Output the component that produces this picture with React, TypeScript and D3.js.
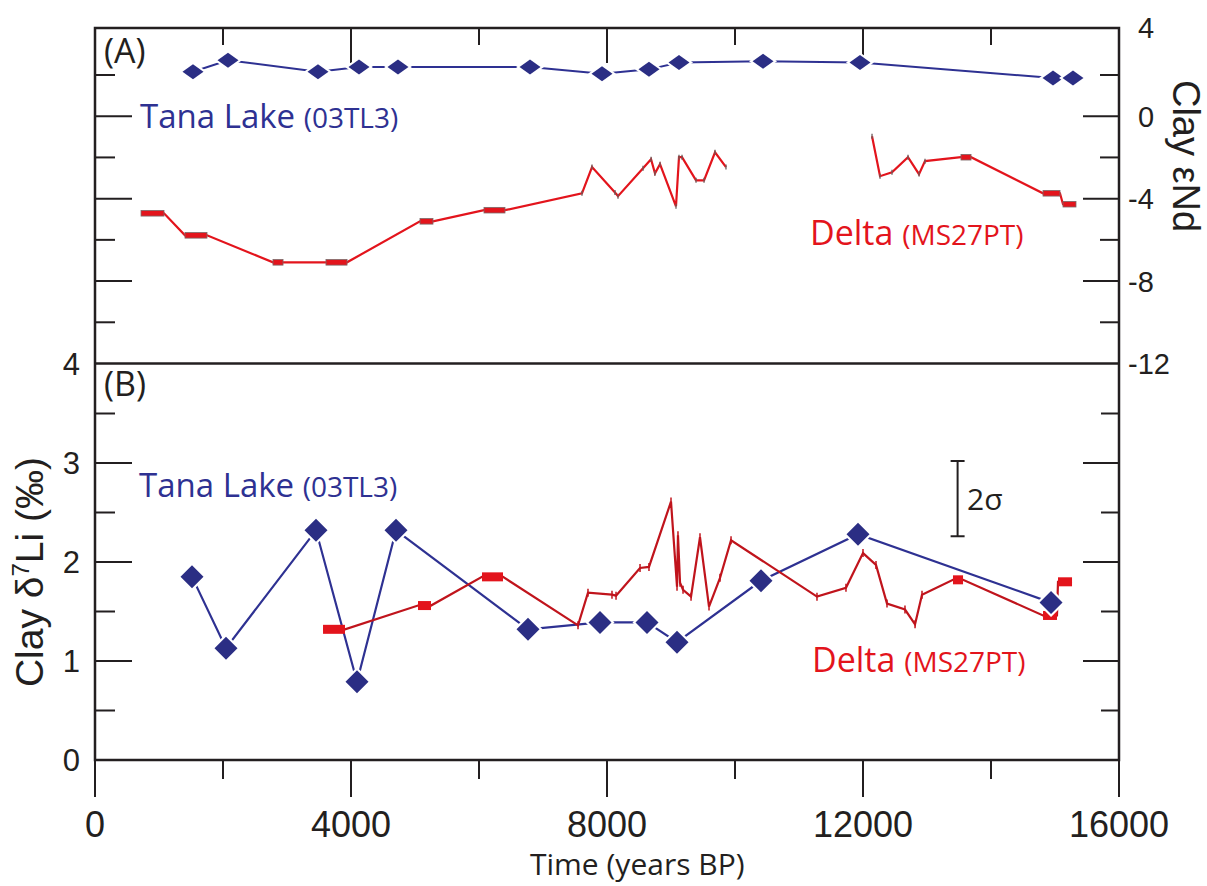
import React from "react";
import * as d3 from "d3";

// ---------- data ----------
const timeTicks = [0, 2000, 4000, 6000, 8000, 10000, 12000, 14000, 16000];
const timeTickLabels = [0, 4000, 8000, 12000, 16000];
const ndTicks = [-12, -10, -8, -6, -4, -2, 0, 2, 4];
const ndTickLabels = [4, 0, -4, -8, -12];
const liTicks = [0, 0.5, 1, 1.5, 2, 2.5, 3, 3.5, 4];
const liTickLabels = [0, 1, 2, 3, 4];

// Panel A: Tana Lake clay eNd
const tanaNdAge = [1531, 2078, 3484, 4125, 4734, 6797, 7922, 8656, 9125, 10438, 11953, 14969, 15281];
const tanaNd = [2.14, 2.63, 2.14, 2.34, 2.34, 2.34, 2.05, 2.24, 2.53, 2.58, 2.53, 1.85, 1.85];

// Panel A: Delta clay eNd (age range min/max; bars where min != max), two segments
const deltaNdAgeMin1 = [719, 1406, 2781, 3609, 5078, 6078, 7609, 7766, 8125, 8172, 8563, 8688, 8750, 8828, 9078, 9125, 9172, 9391, 9516, 9688, 9859];
const deltaNdAgeMax1 = [1078, 1750, 2938, 3938, 5281, 6406, 7609, 7766, 8125, 8172, 8563, 8688, 8750, 8828, 9078, 9125, 9172, 9391, 9516, 9688, 9859];
const deltaNd1 = [-4.71, -5.78, -7.09, -7.09, -5.1, -4.56, -3.74, -2.47, -3.7, -3.88, -2.52, -2.09, -2.77, -2.33, -4.37, -1.99, -1.99, -3.11, -3.11, -1.75, -2.47];
const deltaNdAgeMin2 = [12141, 12266, 12453, 12703, 12875, 12969, 13531, 14813, 15125];
const deltaNdAgeMax2 = [12141, 12266, 12453, 12703, 12875, 12969, 13688, 15078, 15328];
const deltaNd2 = [-0.97, -2.91, -2.72, -1.99, -2.81, -2.18, -1.99, -3.74, -4.27];

// Panel B: Tana Lake clay d7Li
const tanaLiAge = [1516, 2047, 3453, 4094, 4703, 6766, 7891, 8625, 9094, 10406, 11922, 14938];
const tanaLi = [1.85, 1.13, 2.32, 0.79, 2.32, 1.32, 1.39, 1.39, 1.19, 1.81, 2.28, 1.59];

// Panel B: Delta clay d7Li
const deltaLiAgeMin = [3563, 5047, 6047, 7547, 7703, 8078, 8141, 8516, 8656, 9000, 9094, 9109, 9141, 9188, 9313, 9453, 9594, 9766, 9938, 11281, 11734, 12000, 12203, 12375, 12656, 12813, 12922, 13406, 14813, 15047];
const deltaLiAgeMax = [3906, 5250, 6375, 7547, 7703, 8078, 8141, 8516, 8656, 9000, 9094, 9109, 9141, 9188, 9313, 9453, 9594, 9766, 9938, 11281, 11734, 12000, 12203, 12375, 12656, 12813, 12922, 13563, 15031, 15266];
const deltaLi = [1.32, 1.56, 1.85, 1.36, 1.69, 1.67, 1.66, 1.94, 1.95, 2.61, 1.75, 2.27, 1.79, 1.72, 1.65, 2.25, 1.55, 1.84, 2.22, 1.65, 1.74, 2.09, 1.97, 1.58, 1.52, 1.37, 1.67, 1.82, 1.46, 1.8];

// 2 sigma reference bar (d7Li)
const twoSigmaAge = 13400;
const twoSigmaLow = 2.26;
const twoSigmaHigh = 3.02;

// ---------- layout ----------
const W = 1207, H = 886;
const L = 95, R = 1119, T = 28, M = 363.5, B = 760;
const BLUE = "#2e3192";
const BLUE_MK = "#2b2e84";
const RED = "#e3141c";
const RED_DARK = "#c0141c";
const INK = "#231f20";
const NUM = "'Liberation Sans', Arial, sans-serif";
const TXT = "'Open Sans', 'Noto Sans', sans-serif";

const x = d3.scaleLinear().domain([0, 16000]).range([L, R]);
const yA = d3.scaleLinear().domain([-12, 2, 4]).range([M, 75, T]);
const yB = d3.scaleLinear().domain([0, 4]).range([B, 364]);

type P = [number, number];

function rangePoints(mins: number[], maxs: number[], vals: number[]): P[] {
  const pts: P[] = [];
  vals.forEach((v, i) => {
    pts.push([mins[i], v]);
    if (maxs[i] !== mins[i]) pts.push([maxs[i], v]);
  });
  return pts;
}

function diamond(cx: number, cy: number, hw: number, hh: number) {
  return `M${cx},${cy - hh}L${cx + hw},${cy}L${cx},${cy + hh}L${cx - hw},${cy}Z`;
}

export default function App() {
  const lineA = d3.line<P>().x((d) => x(d[0])).y((d) => yA(d[1]));
  const lineB = d3.line<P>().x((d) => x(d[0])).y((d) => yB(d[1]));

  const tanaA: P[] = tanaNdAge.map((a, i) => [a, tanaNd[i]]);
  const tanaB: P[] = tanaLiAge.map((a, i) => [a, tanaLi[i]]);
  const dA1 = rangePoints(deltaNdAgeMin1, deltaNdAgeMax1, deltaNd1);
  const dA2 = rangePoints(deltaNdAgeMin2, deltaNdAgeMax2, deltaNd2);
  const dB = rangePoints(deltaLiAgeMin, deltaLiAgeMax, deltaLi);

  const ndBars = [
    ...deltaNd1.map((v, i) => ({ a0: deltaNdAgeMin1[i], a1: deltaNdAgeMax1[i], v })),
    ...deltaNd2.map((v, i) => ({ a0: deltaNdAgeMin2[i], a1: deltaNdAgeMax2[i], v })),
  ];
  const liBars = deltaLi.map((v, i) => ({ a0: deltaLiAgeMin[i], a1: deltaLiAgeMax[i], v }));

  return (
    <svg width={W} height={H} style={{ position: "absolute", left: 0, top: 0, background: "#fff" }}>
      {/* frame */}
      <g stroke={INK} strokeWidth={2.5} fill="none">
        <rect x={L} y={T} width={R - L} height={B - T} />
        <line x1={L} x2={R} y1={M} y2={M} />
      </g>

      {/* x ticks: top inward on panel A, bottom outward */}
      <g stroke={INK} strokeWidth={2}>
        {timeTicks.map((t) => {
          const major = t % 4000 === 0;
          return (
            <g key={"xt" + t}>
              {t > 0 && t < 16000 && (
                <line x1={x(t)} x2={x(t)} y1={T} y2={T + (major ? 35 : 17)} />
              )}
              <line x1={x(t)} x2={x(t)} y1={B} y2={B + (major ? 37 : 19)} />
            </g>
          );
        })}
      </g>
      <g fontFamily={NUM} fontSize={36} fill={INK} textAnchor="middle">
        {timeTickLabels.map((t) => (
          <text key={"xl" + t} x={x(t)} y={837}>
            {t}
          </text>
        ))}
      </g>
      <text x={530} y={875} fontFamily={TXT} fontSize={30} fill={INK}>
        Time (years BP)
      </text>

      {/* panel A y ticks (both sides, inward) */}
      <g stroke={INK} strokeWidth={2}>
        {ndTicks
          .filter((v) => v > -12 && v < 4)
          .map((v) => {
            const major = v % 4 === 0;
            return (
              <g key={"ya" + v}>
                <line x1={L} x2={L + (major ? 37 : 20)} y1={yA(v)} y2={yA(v)} />
                <line x1={R} x2={R - (major ? 36 : 19)} y1={yA(v)} y2={yA(v)} />
              </g>
            );
          })}
      </g>
      <g fontFamily={NUM} fontSize={29} fill={INK}>
        {ndTickLabels.map((v) => (
          <text key={"yal" + v} x={v < 0 ? 1128 : 1138} y={yA(v)} dy="0.36em">
            {v < 0 ? "-" + Math.abs(v) : v}
          </text>
        ))}
      </g>
      <text
        transform={`translate(1173,156) rotate(90)`}
        textAnchor="middle"
        fontFamily={NUM}
        fontSize={38}
        fill={INK}
      >
        Clay εNd
      </text>

      {/* panel B y ticks */}
      <g stroke={INK} strokeWidth={2}>
        {liTicks
          .filter((v) => v > 0 && v < 4)
          .map((v) => {
            const major = v % 1 === 0;
            return (
              <g key={"yb" + v}>
                <line x1={L} x2={L + (major ? 37 : 20)} y1={yB(v)} y2={yB(v)} />
                <line x1={R} x2={R - (major ? 36 : 18)} y1={yB(v)} y2={yB(v)} />
              </g>
            );
          })}
      </g>
      <g fontFamily={NUM} fontSize={31} fill={INK} textAnchor="end">
        {liTickLabels.map((v) => (
          <text key={"ybl" + v} x={80} y={yB(v)} dy="0.36em">
            {v}
          </text>
        ))}
      </g>
      <text
        transform={`translate(43,572) rotate(-90)`}
        textAnchor="middle"
        fontFamily={NUM}
        fontSize={39}
        fill={INK}
      >
        Clay δ<tspan dy={-14} fontSize={24}>7</tspan>
        <tspan dy={14}>Li (‰)</tspan>
      </text>

      {/* panel labels */}
      <text x={104} y={63} fontFamily={TXT} fontSize={34} fill={INK}>(A)</text>
      <text x={104} y={396} fontFamily={TXT} fontSize={34} fill={INK}>(B)</text>

      {/* ---------- Panel A data ---------- */}
      <path d={lineA(tanaA) || ""} fill="none" stroke={BLUE} strokeWidth={2} />
      <path d={lineA(dA1) || ""} fill="none" stroke={RED} strokeWidth={2.2} />
      <path d={lineA(dA2) || ""} fill="none" stroke={RED} strokeWidth={2.2} />
      {ndBars.map((b, i) =>
        b.a1 !== b.a0 ? (
          <rect
            key={"nb" + i}
            x={x(b.a0)}
            y={yA(b.v) - 2.8}
            width={x(b.a1) - x(b.a0)}
            height={5.6}
            fill={RED}
            stroke="#7a6a6a"
            strokeWidth={0.8}
          />
        ) : (
          <line
            key={"nb" + i}
            x1={x(b.a0)}
            x2={x(b.a0)}
            y1={yA(b.v) - 2.5}
            y2={yA(b.v) + 2.5}
            stroke="#6b5b5b"
            strokeWidth={1.3}
          />
        )
      )}
      {tanaA.map((d, i) => (
        <g key={"ta" + i}>
          <path d={diamond(x(d[0]), yA(d[1]), 14, 10)} fill="#fff" />
          <path d={diamond(x(d[0]), yA(d[1]), 10.5, 7.5)} fill={BLUE_MK} />
        </g>
      ))}
      <text x={140} y={128} fill={BLUE} fontFamily={TXT}>
        <tspan fontSize={33}>Tana Lake </tspan>
        <tspan fontSize={28}>(03TL3)</tspan>
      </text>
      <text x={810} y={245} fill={RED} fontFamily={TXT}>
        <tspan fontSize={34}>Delta </tspan>
        <tspan fontSize={28}>(MS27PT)</tspan>
      </text>

      {/* ---------- Panel B data ---------- */}
      <path d={lineB(tanaB) || ""} fill="none" stroke={BLUE} strokeWidth={2.2} />
      <path d={lineB(dB) || ""} fill="none" stroke={RED_DARK} strokeWidth={2.2} />
      {liBars.map((b, i) =>
        b.a1 !== b.a0 ? (
          <rect
            key={"lb" + i}
            x={x(b.a0)}
            y={yB(b.v) - 4.5}
            width={x(b.a1) - x(b.a0)}
            height={9}
            fill={RED}
          />
        ) : (
          <line
            key={"lb" + i}
            x1={x(b.a0)}
            x2={x(b.a0)}
            y1={yB(b.v) - 4}
            y2={yB(b.v) + 4}
            stroke={RED_DARK}
            strokeWidth={1.5}
          />
        )
      )}
      {tanaB.map((d, i) => (
        <g key={"tb" + i}>
          <path d={diamond(x(d[0]), yB(d[1]), 14.5, 14.5)} fill="#fff" />
          <path d={diamond(x(d[0]), yB(d[1]), 11.5, 11.5)} fill={BLUE_MK} />
        </g>
      ))}
      <text x={139} y={497} fill={BLUE} fontFamily={TXT}>
        <tspan fontSize={33}>Tana Lake </tspan>
        <tspan fontSize={28}>(03TL3)</tspan>
      </text>
      <text x={812} y={672} fill={RED} fontFamily={TXT}>
        <tspan fontSize={34}>Delta </tspan>
        <tspan fontSize={28}>(MS27PT)</tspan>
      </text>

      {/* 2 sigma bar */}
      <g stroke={INK} strokeWidth={2}>
        <line x1={x(twoSigmaAge) + 5} x2={x(twoSigmaAge) + 5} y1={yB(twoSigmaHigh)} y2={yB(twoSigmaLow)} />
        <line x1={x(twoSigmaAge) - 2} x2={x(twoSigmaAge) + 12} y1={yB(twoSigmaHigh)} y2={yB(twoSigmaHigh)} />
        <line x1={x(twoSigmaAge) - 2} x2={x(twoSigmaAge) + 12} y1={yB(twoSigmaLow)} y2={yB(twoSigmaLow)} />
      </g>
      <text x={967} y={510} fontFamily={TXT} fontSize={30} fill={INK}>2σ</text>
    </svg>
  );
}
